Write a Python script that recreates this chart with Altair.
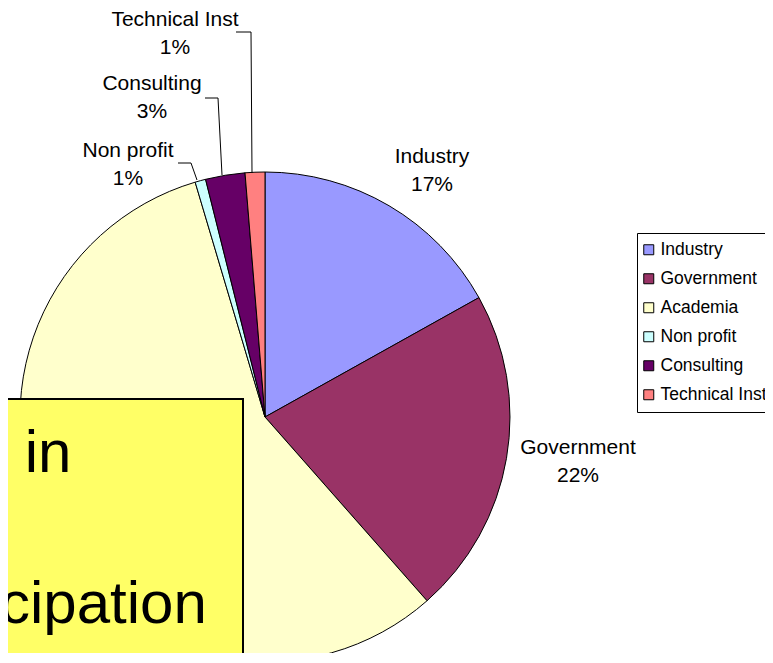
import altair as alt
import pandas as pd

# ---- data ----
categories = ["Industry", "Government", "Academia", "Non profit", "Consulting", "Technical Inst"]
shares = [16.9, 21.6, 56.9, 0.7, 2.6, 1.3]
share_labels = ["17%", "22%", "57%", "1%", "3%", "1%"]
colors = ["#9999FF", "#993366", "#FFFFCC", "#CCFFFF", "#660066", "#FF8080"]
box_lines = ["r in", "cipation", "lack"]

df = pd.DataFrame({
    "category": categories,
    "share": shares,
    "pct": share_labels,
    "order": list(range(len(categories))),
})

W, H = 757, 645
CX, CY, R = 257, 409, 245
FONT = "Liberation Sans"

pie = alt.Chart(df).mark_arc(radius=R, stroke="black", strokeWidth=1).encode(
    theta=alt.Theta("share:Q", stack=True),
    order=alt.Order("order:Q"),
    color=alt.Color(
        "category:N",
        scale=alt.Scale(domain=categories, range=colors),
        sort=categories,
        legend=alt.Legend(
            title=None, orient="none", legendX=629, legendY=225,
            fillColor="white", strokeColor="black",
            padding=8, symbolType="square", symbolSize=100,
            symbolOffset=-5,
            symbolStrokeColor="black", symbolStrokeWidth=1,
            labelFont=FONT, labelFontSize=17.5, labelColor="black",
            rowPadding=10, labelOffset=3, labelLimit=300,
        ),
    ),
    x=alt.value(CX), y=alt.value(CY),
)

# label layout (annotation positions, chart coords)
label_pos = {
    "Industry": (424, 155),
    "Government": (570, 446),
    "Non profit": (120, 149),
    "Consulting": (144, 82),
    "Technical Inst": (167, 18),
}
label_layers = []
for cat, (lx, ly) in label_pos.items():
    label_layers.append(
        alt.Chart(df).transform_filter(alt.datum.category == cat)
        .transform_calculate(txt="datum.category + '\\n' + datum.pct")
        .mark_text(font=FONT, fontSize=21, color="black", align="center",
                   baseline="alphabetic", lineBreak="\n", lineHeight=28)
        .encode(text="txt:N", x=alt.value(lx), y=alt.value(ly))
    )

dummy = pd.DataFrame({"a": [0]})
segments = [
    (228, 24, 243, 24), (243, 24, 244, 165),   # Technical Inst
    (197, 90, 210, 90), (210, 90, 214, 167),   # Consulting
    (170, 155, 183, 155), (183, 155, 189, 172),  # Non profit
]
leaders = [
    alt.Chart(dummy).mark_rule(color="black", strokeWidth=1).encode(
        x=alt.value(a), y=alt.value(b), x2=alt.value(c), y2=alt.value(d))
    for a, b, c, d in segments
]

box = alt.Chart(dummy).mark_rect(fill="#FFFF66", stroke="black", strokeWidth=2).encode(
    x=alt.value(-20), x2=alt.value(235), y=alt.value(391), y2=alt.value(720))

box_text_pos = [(-20, 464), (-8, 615), (2, 690)]
box_texts = [
    alt.Chart(dummy).mark_text(text=t, font=FONT, fontSize=60, color="black",
                               align="left", baseline="alphabetic")
    .encode(x=alt.value(px), y=alt.value(py))
    for t, (px, py) in zip(box_lines, box_text_pos)
]

chart = alt.layer(pie, *label_layers, *leaders, box, *box_texts).properties(
    width=W, height=H, padding=0, autosize=alt.AutoSizeParams(type="none"),
    background="white",
).configure_view(stroke=None)

chart.save("out.html", embed_options={"renderer": "svg", "actions": False})
